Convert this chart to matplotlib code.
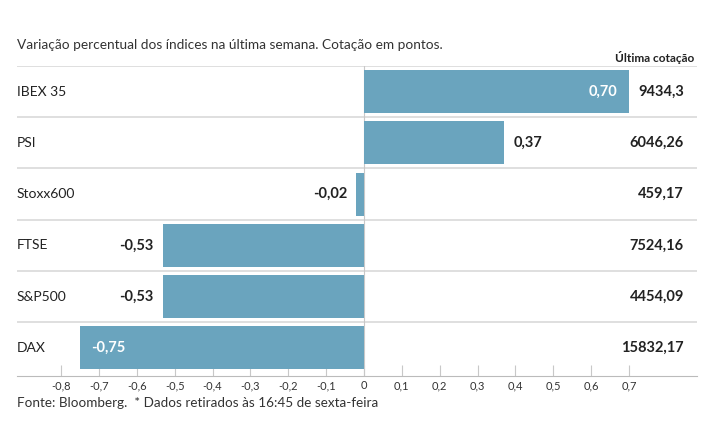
import numpy as np
import matplotlib.pyplot as plt

plt.rcParams['font.family'] = ['Lato', 'DejaVu Sans']

# Dados
indices = ['IBEX 35', 'PSI', 'Stoxx600', 'FTSE', 'S&P500', 'DAX']
variacao = [0.70, 0.37, -0.02, -0.53, -0.53, -0.75]
cotacao = ['9434,3', '6046,26', '459,17', '7524,16', '4454,09', '15832,17']
ticks = [-0.8, -0.7, -0.6, -0.5, -0.4, -0.3, -0.2, -0.1, 0, 0.1, 0.2, 0.3, 0.4, 0.5, 0.6, 0.7]

W, H = 715, 445
fig = plt.figure(figsize=(W / 100, H / 100), dpi=100)
x0, x1 = 17, 697
y_top, y_axis = 66, 376
ax = fig.add_axes([x0 / W, 1 - y_axis / H, (x1 - x0) / W, (y_axis - y_top) / H])

cor = '#6aa4be'
pos = np.arange(len(indices))
ax.barh(pos, variacao, height=0.84, color=cor, zorder=2)

# escala: 0 em x=364px, 0.7 em x=629px
k = (629 - 364) / 0.7
ax.set_xlim((x0 - 364) / k, (x1 - 364) / k)
ax.set_ylim(5.55, -0.5)

# linhas separadoras
for i in pos:
    ax.axhline(i - 0.5, color='#d9d9d9', lw=1.2, zorder=1)
ax.axvline(0, color='#c8c8c8', lw=0.8, zorder=1)

for s in ['top', 'right', 'left']:
    ax.spines[s].set_visible(False)
ax.spines['bottom'].set_color('#bbbbbb')
ax.set_yticks([])
ax.set_xticks(ticks)
ax.set_xticklabels([('%g' % t).replace('.', ',') for t in ticks], fontsize=8, color='#333333')
ax.tick_params(axis='x', direction='in', length=8, color='#c8c8c8', pad=3)

tr = ax.get_yaxis_transform()
for i, (nome, v, c) in enumerate(zip(indices, variacao, cotacao)):
    ax.text(0.0, i, nome, transform=tr, ha='left', va='center', fontsize=10, color='#222222')
    lab = ('%.2f' % v).replace('.', ',')
    if abs(v) > 0.6:
        off = -0.03 if v > 0 else 0.03
        ax.text(v + off, i, lab, ha='right' if v > 0 else 'left', va='center',
                fontsize=10.5, color='white', fontweight='bold')
    else:
        off = 0.025 if v > 0 else -0.025
        ax.text(v + off, i, lab, ha='left' if v > 0 else 'right', va='center',
                fontsize=10.5, color='#222222', fontweight='bold')
    ax.text((684 - x0) / (x1 - x0), i, c, transform=tr, ha='right', va='center',
            fontsize=10.5, color='#222222', fontweight='bold')

fig.text(17 / W, 1 - 45 / H, 'Variação percentual dos índices na última semana. Cotação em pontos.',
         ha='left', va='center', fontsize=9.8, color='#333333')
fig.text(694 / W, 1 - 58 / H, 'Última cotação', ha='right', va='center',
         fontsize=8.6, fontweight='bold', color='#222222')
fig.text(17 / W, 1 - 403 / H, 'Fonte: Bloomberg.  * Dados retirados às 16:45 de sexta-feira',
         ha='left', va='center', fontsize=9.7, color='#333333')

fig.savefig('out.png', dpi=100)
